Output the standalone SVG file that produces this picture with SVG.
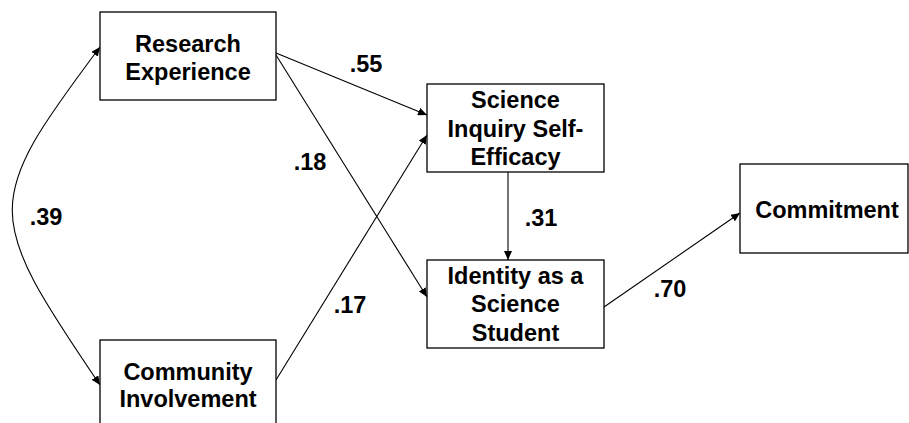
<svg xmlns="http://www.w3.org/2000/svg" width="909" height="423" viewBox="0 0 909 423">
<defs>
<marker id="ah" markerUnits="userSpaceOnUse" markerWidth="10" markerHeight="8" refX="9" refY="4" orient="auto-start-reverse">
<path d="M0,0 L9,4 L0,8 Z" fill="#000"/>
</marker>
</defs>
<style>
.box{fill:#fff;stroke:#000;stroke-width:1.3}
.t{font-family:"Liberation Sans",Arial,sans-serif;font-weight:bold;font-size:23.5px;text-anchor:middle;fill:#000}
.c{fill:none;stroke:#000;stroke-width:1.1;marker-end:url(#ah)}
</style>
<rect width="909" height="423" fill="#fff"/>
<g id="connectors">
<line class="c" x1="276" y1="53" x2="427" y2="115"/>
<line class="c" x1="276" y1="55" x2="427" y2="297"/>
<line class="c" x1="276" y1="380" x2="427" y2="135"/>
<line class="c" x1="508" y1="172" x2="508" y2="260"/>
<line class="c" x1="604" y1="307" x2="740" y2="213"/>
<path class="c" d="M100,385 C-17,213 -17,203 100,47" style="marker-start:url(#ah)"/>
<g class="t">
<text x="366" y="72">.55</text>
<text x="310" y="170">.18</text>
<text x="46" y="225">.39</text>
<text x="541" y="226">.31</text>
<text x="350" y="313">.17</text>
<text x="670" y="297">.70</text>
</g>
</g>
<g id="research">
<rect class="box" x="100" y="12" width="176" height="88"/>
<text class="t" x="188" y="52">Research</text>
<text class="t" x="188" y="80">Experience</text>
</g>
<g id="community">
<rect class="box" x="100" y="340" width="176" height="90"/>
<text class="t" x="188" y="380">Community</text>
<text class="t" x="188" y="407">Involvement</text>
</g>
<g id="selfefficacy">
<rect class="box" x="427" y="84" width="177" height="88"/>
<text class="t" x="515.5" y="108">Science</text>
<text class="t" x="515.5" y="137">Inquiry Self-</text>
<text class="t" x="515.5" y="165">Efficacy</text>
</g>
<g id="identity">
<rect class="box" x="427" y="260" width="177" height="88"/>
<text class="t" x="515.5" y="284">Identity as a</text>
<text class="t" x="515.5" y="312">Science</text>
<text class="t" x="515.5" y="341">Student</text>
</g>
<g id="commitment">
<rect class="box" x="740" y="164" width="168" height="89"/>
<text class="t" x="827" y="218">Commitment</text>
</g>
</svg>
